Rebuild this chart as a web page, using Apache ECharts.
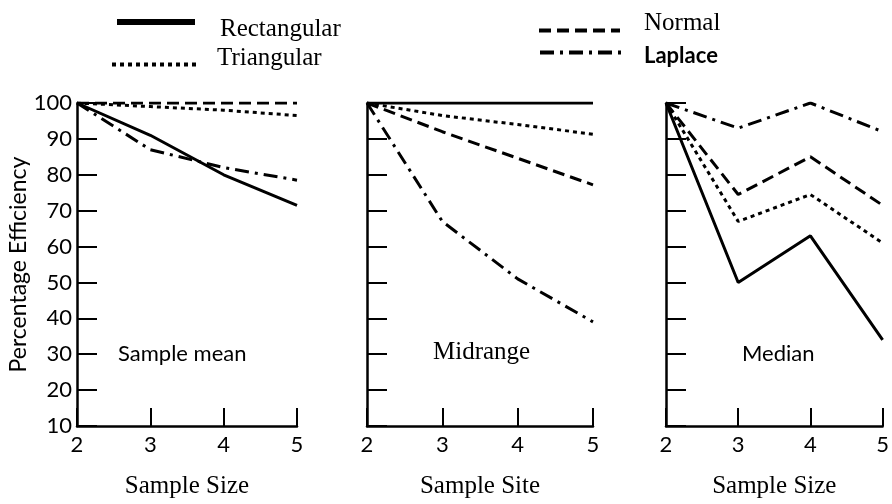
<!DOCTYPE html>
<html><head><meta charset="utf-8">
<script src="https://cdn.jsdelivr.net/npm/echarts@6/dist/echarts.min.js"></script>
<style>html,body{margin:0;padding:0;background:#fff}#c{width:892px;height:504px}</style>
</head><body><div id="c"></div>
<script>
// ---- data ----
const sampleSizes = [2, 3, 4, 5];
const yMin = 10, yMax = 100, yStep = 10;
const panelLabels = ['Sample mean', 'Midrange', 'Median'];
const xAxisTitles = ['Sample Size', 'Sample Site', 'Sample Size'];
const yAxisTitle = 'Percentage Efficiency';
const distributions = ['Rectangular', 'Triangular', 'Normal', 'Laplace'];

// Sample mean
const meanRectangular = [100, 91, 80, 71.5];
const meanTriangular  = [100, 99, 98, 96.5];
const meanNormal      = [100, 100, 100, 100];
const meanLaplace     = [100, 87, 82, 78.5];
// Midrange
const midRectangular  = [100, 100, 100, 100];
const midTriangular   = [100, 96.5, 94, 91.3];
const midNormal       = [100, 92, 84.6, 77.2];
const midLaplace      = [100, 67, 51, 39];
// Median
const medRectangular  = [100, 50, 63, 34];
const medTriangular   = [100, 67, 74.5, 61];
const medNormal       = [100, 74.5, 85, 71.5];
const medLaplace      = [100, 93, 100, 92];

const panelData = [
  [meanRectangular, meanTriangular, meanNormal, meanLaplace],
  [midRectangular, midTriangular, midNormal, midLaplace],
  [medRectangular, medTriangular, medNormal, medLaplace]
];

// ---- styles ----
const lineStyles = {
  Rectangular: { type: 'solid', width: 3 },
  Triangular:  { type: [4, 4], width: 3 },
  Normal:      { type: [12, 6], width: 3 },
  Laplace:     { type: [14, 6, 3, 6], width: 3 }
};
const grids = [
  { left: 77, width: 220, top: 103, height: 330 },
  { left: 367, width: 226, top: 103, height: 330 },
  { left: 666, width: 222, top: 103, height: 330 }
];
const numFont = 'Lato';
const serif = 'Liberation Serif';

const xAxes = grids.map((g, i) => ({
  type: 'value', gridIndex: i, min: sampleSizes[0], max: sampleSizes[sampleSizes.length - 1], interval: 1,
  name: xAxisTitles[i], nameLocation: 'middle', nameGap: 48,
  nameTextStyle: { fontFamily: serif, fontSize: 25, color: '#000' },
  axisLine: { lineStyle: { color: '#000', width: 2.5 } },
  axisTick: { inside: true, length: 18, lineStyle: { color: '#000', width: 2 } },
  axisLabel: { margin: 8, fontFamily: numFont, fontSize: 22, color: '#000' },
  splitLine: { show: false }
}));
const yAxes = grids.map((g, i) => ({
  type: 'value', gridIndex: i, min: yMin, max: yMax, interval: yStep,
  name: i === 0 ? yAxisTitle : '', nameLocation: 'middle', nameGap: 44, nameRotate: 90,
  nameTextStyle: { fontFamily: numFont, fontSize: 23, color: '#000' },
  axisLine: { lineStyle: { color: '#000', width: 2.5 } },
  axisTick: { inside: true, length: 20, lineStyle: { color: '#000', width: 2 } },
  axisLabel: { show: i === 0, margin: 5, fontFamily: numFont, fontSize: 22, color: '#000' },
  splitLine: { show: false }
}));

const series = [];
panelData.forEach((sets, p) => {
  sets.forEach((vals, d) => {
    const name = distributions[d];
    series.push({
      type: 'line', name, xAxisIndex: p, yAxisIndex: p,
      data: sampleSizes.map((x, k) => [x, vals[k]]),
      symbol: 'none', silent: true, animation: false,
      itemStyle: { color: '#000' },
      lineStyle: Object.assign({ color: '#000' }, lineStyles[name])
    });
  });
});

// shift: positive moves the label down relative to its icon, negative up
function legend(name, left, top, itemWidth, gap, shift, font, extra) {
  const spacer = '{s| }';
  const fmt = shift > 0 ? spacer + '\n{t|' + name + '}' : (shift < 0 ? '{t|' + name + '}\n' + spacer : '{t|' + name + '}');
  const tStyle = Object.assign({ color: '#000', fontFamily: serif, fontSize: 25, padding: [0, 0, 0, gap] }, font || {});
  return {
    data: [{ name, lineStyle: extra || { width: 4 } }], left, top, padding: 0,
    itemWidth, itemHeight: 14, selectedMode: false,
    itemStyle: { opacity: 0 },
    formatter: () => fmt,
    textStyle: {
      color: '#000',
      rich: {
        t: tStyle,
        s: { fontSize: 1, lineHeight: Math.abs(shift) * 2, padding: 0 }
      }
    }
  };
}

const option = {
  backgroundColor: '#fff',
  animation: false,
  grid: grids,
  xAxis: xAxes,
  yAxis: yAxes,
  legend: [
    legend('Rectangular', 114, 9, 78, 20, 7, null, { width: 6 }),
    legend('Triangular', 110, 46, 87, 13, -6),
    legend('Normal', 537, 11, 81, 19, -7),
    legend('Laplace', 538, 41, 84, 15, 3, { fontFamily: numFont, fontWeight: 'bold', fontSize: 22 })
  ],
  title: [
    { text: panelLabels[0], left: 118, top: 343, textStyle: { fontFamily: numFont, fontSize: 22, fontWeight: 'normal', color: '#000' }, padding: 0 },
    { text: panelLabels[1], left: 433, top: 340, textStyle: { fontFamily: serif, fontSize: 25, fontWeight: 'normal', color: '#000' }, padding: 0 },
    { text: panelLabels[2], left: 742, top: 343, textStyle: { fontFamily: numFont, fontSize: 22, fontWeight: 'normal', color: '#000' }, padding: 0 }
  ],
  series
};
const chart = echarts.init(document.getElementById('c'), null, { renderer: 'canvas' });
chart.setOption(option);
</script></body></html>
